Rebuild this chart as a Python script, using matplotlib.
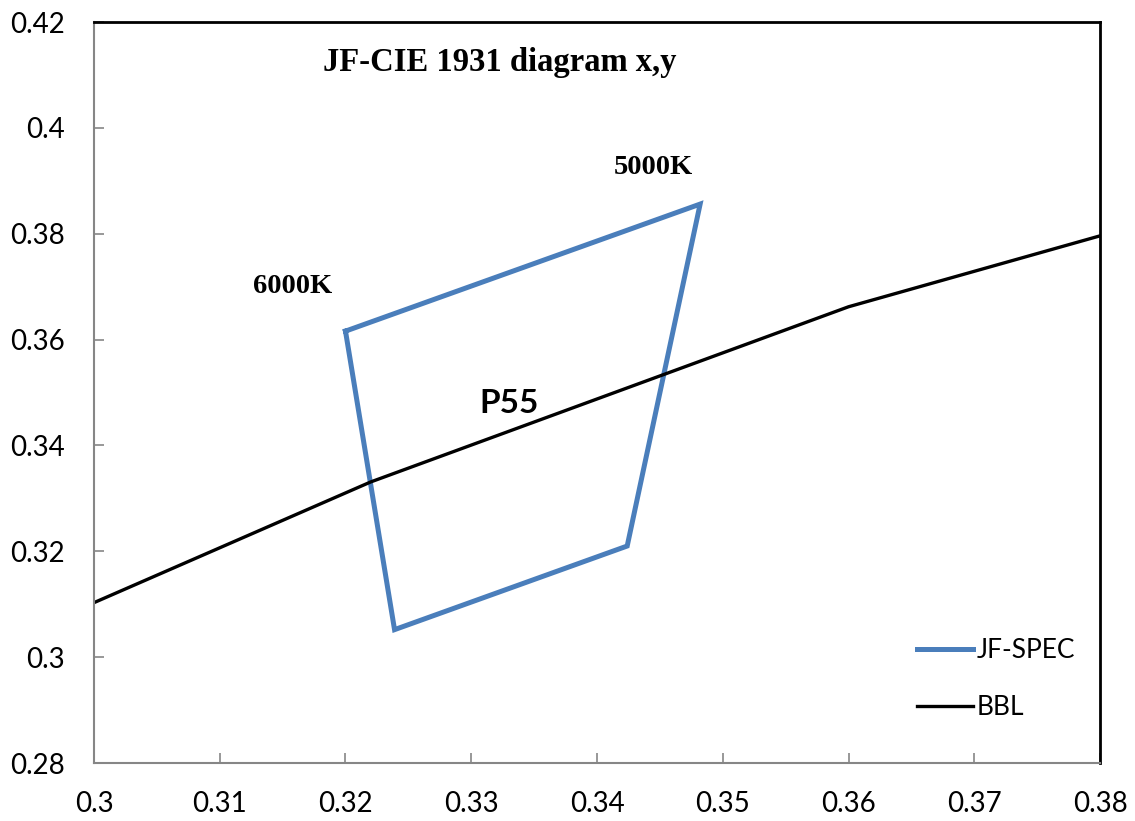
import matplotlib.pyplot as plt

# JF-SPEC quadrangle corners (6000K top-left, 5000K top-right, then bottom)
spec_x = [0.3200, 0.3482, 0.3424, 0.3239, 0.3200]
spec_y = [0.3616, 0.3856, 0.3210, 0.3052, 0.3616]

# black body locus points
bbl_x = [0.300, 0.322, 0.360, 0.380]
bbl_y = [0.3103, 0.3331, 0.3662, 0.3796]

xticks = [0.30, 0.31, 0.32, 0.33, 0.34, 0.35, 0.36, 0.37, 0.38]
xtick_labels = ['0.3', '0.31', '0.32', '0.33', '0.34', '0.35', '0.36', '0.37', '0.38']
yticks = [0.28, 0.30, 0.32, 0.34, 0.36, 0.38, 0.40, 0.42]
ytick_labels = ['0.28', '0.3', '0.32', '0.34', '0.36', '0.38', '0.4', '0.42']

fig = plt.figure(figsize=(11.35, 8.21), dpi=100)
ax = fig.add_axes([0.0828, 0.0706, 0.8864, 0.9026])

ax.plot(spec_x, spec_y, color='#4a7ebb', lw=3.6, label='JF-SPEC', solid_joinstyle='miter')
ax.plot(bbl_x, bbl_y, color='black', lw=2.4, label='BBL')

ax.set_xlim(0.30, 0.38)
ax.set_ylim(0.28, 0.42)
ax.set_xticks(xticks)
ax.set_xticklabels(xtick_labels)
ax.set_yticks(yticks)
ax.set_yticklabels(ytick_labels)

for lab in ax.get_xticklabels() + ax.get_yticklabels():
    lab.set_fontfamily('Lato')
    lab.set_fontsize(20)
ax.tick_params(direction='in', length=7, width=1.2, color='#868686')
ax.tick_params(axis='x', pad=20, top=False)
ax.tick_params(axis='y', pad=21, right=False)

for side in ['left', 'bottom']:
    ax.spines[side].set_color('#868686')
    ax.spines[side].set_linewidth(1.5)
for side in ['top', 'right']:
    ax.spines[side].set_color('black')
    ax.spines[side].set_linewidth(2)

ax.text(0.3323, 0.4124, 'JF-CIE 1931 diagram x,y', family='Liberation Serif',
        weight='bold', size=23.5, ha='center', va='center')
ax.text(0.3445, 0.3926, '5000K', family='Liberation Serif', weight='bold',
        size=20.5, ha='center', va='center')
ax.text(0.3158, 0.3700, '6000K', family='Liberation Serif', weight='bold',
        size=20.5, ha='center', va='center')
ax.text(0.3330, 0.3480, 'P55', family='Lato', weight='bold',
        size=24, ha='center', va='center')

ax.legend(loc='lower right', bbox_to_anchor=(0.999, 0.026), frameon=False,
          prop={'family': 'Lato', 'size': 19}, handlelength=2.1,
          handletextpad=0.15, labelspacing=1.2)

fig.savefig('out.png', dpi=100)
